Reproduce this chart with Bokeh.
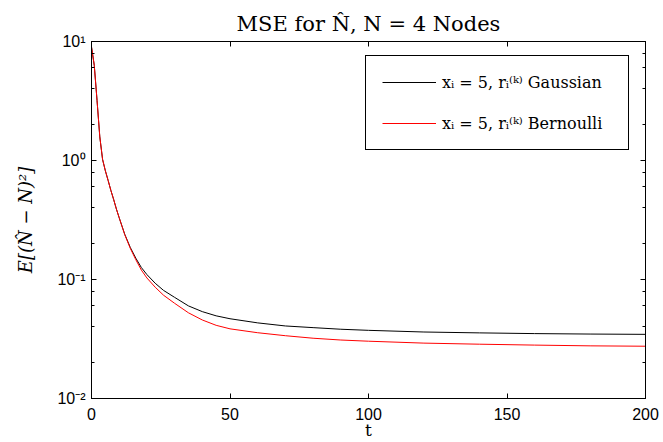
from bokeh.plotting import figure
from bokeh.models import (LinearAxis, LogAxis, FixedTicker, LogTicker, Legend, LegendItem,
                          CustomJSTickFormatter)
from bokeh.embed import file_html
from bokeh.resources import INLINE

# ---- data ----
t_values = [0, 1, 2, 3, 4, 5, 6, 7, 8, 9, 10, 12, 14, 16, 18, 20, 23, 26, 30, 35, 40, 45,
            50, 60, 70, 80, 90, 100, 120, 140, 160, 180, 200]
mse_gaussian = [9.0, 6.3, 3.2, 1.58, 1.02, 0.82, 0.68, 0.56, 0.47, 0.39, 0.33, 0.24, 0.186,
                0.151, 0.126, 0.110, 0.093, 0.081, 0.0708, 0.060, 0.0537, 0.0495, 0.0468,
                0.0432, 0.0407, 0.0394, 0.0382, 0.0374, 0.0362, 0.0356, 0.0351, 0.0348, 0.0346]
mse_bernoulli = [9.0, 6.3, 3.2, 1.58, 1.02, 0.82, 0.68, 0.56, 0.47, 0.39, 0.33, 0.238, 0.183,
                 0.1466, 0.120, 0.103, 0.0861, 0.0738, 0.0631, 0.0525, 0.0457, 0.0412, 0.0385,
                 0.0357, 0.0337, 0.0321, 0.0310, 0.0303, 0.0292, 0.0286, 0.0281, 0.0277, 0.0275]
series_labels = ["xᵢ = 5, rᵢ⁽ᵏ⁾ Gaussian", "xᵢ = 5, rᵢ⁽ᵏ⁾ Bernoulli"]
x_ticks = [0, 50, 100, 150, 200]
y_ticks = [0.01, 0.1, 1, 10]
y_tick_labels = ["10⁻²", "10⁻¹", "10⁰", "10¹"]
title_text = "MSE for N̂, N = 4 Nodes"
x_label = "t"
y_label = "E[(N̂ − N)²]"

p = figure(width=663, height=442, y_axis_type="log", x_range=(0, 200), y_range=(0.01, 10),
           output_backend="svg", toolbar_location=None,
           min_border_left=91, min_border_right=18, min_border_top=41, min_border_bottom=41)
p.background_fill_color = "white"
p.border_fill_color = "white"
p.outline_line_color = "black"
p.outline_line_width = 1
p.grid.visible = False

r1 = p.line(t_values, mse_gaussian, line_color="black", line_width=1)
r2 = p.line(t_values, mse_bernoulli, line_color="red", line_width=1)

tick_font = "Liberation Sans"
# bottom axis
xa = p.xaxis[0]
xa.ticker = FixedTicker(ticks=x_ticks)
xa.major_tick_in = 5
xa.major_tick_out = 0
xa.minor_tick_line_color = None
xa.axis_line_color = "black"
xa.major_tick_line_color = "black"
xa.major_label_text_font = tick_font
xa.major_label_text_font_size = "16px"
xa.major_label_text_color = "black"
xa.major_label_standoff = 9
xa.axis_label = x_label
xa.axis_label_text_font = "DejaVu Serif"
xa.axis_label_text_font_style = "normal"
xa.axis_label_text_font_size = "17px"
xa.axis_label_text_color = "black"
xa.axis_label_standoff = -3

# left axis
ya = p.yaxis[0]
ya.ticker = LogTicker()
ya.major_label_overrides = {v: s for v, s in zip(y_ticks, y_tick_labels)}
ya.major_tick_in = 5
ya.major_tick_out = 0
ya.minor_tick_in = 3
ya.minor_tick_out = 0
ya.axis_line_color = "black"
ya.major_tick_line_color = "black"
ya.minor_tick_line_color = "black"
ya.major_label_text_font = tick_font
ya.major_label_text_font_size = "16px"
ya.major_label_text_color = "black"
ya.major_label_standoff = 6
ya.axis_label = y_label
ya.axis_label_text_font = "DejaVu Serif"
ya.axis_label_text_font_style = "italic"
ya.axis_label_text_font_size = "18px"
ya.axis_label_text_color = "black"
ya.axis_label_standoff = 18

# mirrored axes (box with ticks on all sides), no labels
top = LinearAxis(ticker=FixedTicker(ticks=x_ticks), major_tick_in=5, major_tick_out=0,
                 minor_tick_line_color=None, formatter=CustomJSTickFormatter(code="return '';"),
                 major_label_standoff=0, axis_line_color="black")
p.add_layout(top, "above")
right = LogAxis(ticker=LogTicker(), major_tick_in=5, major_tick_out=0,
                minor_tick_in=3, minor_tick_out=0, formatter=CustomJSTickFormatter(code="return '';"),
                major_label_standoff=0, axis_line_color="black")
p.add_layout(right, "right")

# title
p.title.text = title_text
p.title.align = "center"
p.title.text_font = "DejaVu Serif"
p.title.text_font_style = "normal"
p.title.text_font_size = "21px"
p.title.text_color = "black"
p.title.standoff = 12

legend = Legend(items=[LegendItem(label=series_labels[0], renderers=[r1]),
                       LegendItem(label=series_labels[1], renderers=[r2])],
                location=(274, 248), orientation="vertical",
                border_line_color="black", border_line_width=1, border_line_alpha=1,
                background_fill_color="white", background_fill_alpha=1,
                padding=16, spacing=21, label_height=20, glyph_height=20, glyph_width=54,
                label_standoff=6, label_width=170, margin=0,
                label_text_font="DejaVu Serif", label_text_font_size="16px",
                label_text_color="black")
p.add_layout(legend)

open("out.html", "w").write(file_html(p, INLINE))
